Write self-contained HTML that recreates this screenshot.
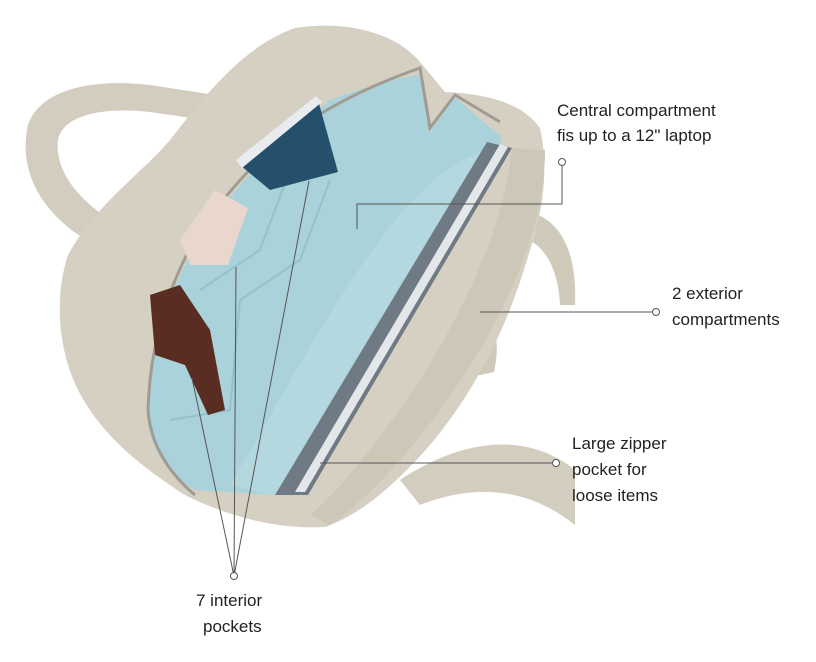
<!DOCTYPE html>
<html><head><meta charset="utf-8"><style>
html,body{margin:0;padding:0;background:#fff;}
svg{display:block}
text{font-family:"Liberation Sans",sans-serif;font-size:17px;fill:#222}
</style></head><body>
<svg width="816" height="662" viewBox="0 0 816 662" xmlns="http://www.w3.org/2000/svg">
<!-- left handle -->
<path d="M95,245 C40,215 18,170 28,125 C40,90 90,78 150,85 L215,95 L205,120 L150,112 C95,106 62,118 58,140 C54,175 85,205 118,225 Z" fill="#d3cdbf"/>
<!-- right handles -->
<path d="M505,212 C548,205 578,235 575,305 L560,305 C558,258 535,232 505,236 Z" fill="#d0cabb"/>
<path d="M470,318 C498,312 500,345 494,372 L466,378 Z" fill="#cfc9ba"/>
<path d="M400,480 C460,440 525,430 575,470 L575,525 C525,485 470,485 420,505 Z" fill="#d3cdbf"/>
<!-- body -->
<path d="M68,255 C95,205 140,175 170,140 C205,95 245,45 295,28 C345,20 395,32 420,62 L445,92 C485,94 522,102 540,128 C548,165 545,205 530,250 C510,320 480,385 430,445 C395,485 360,515 325,527 C275,530 225,515 185,495 C130,460 85,420 68,365 C56,325 58,285 68,255 Z" fill="#d6d0c3"/>
<!-- interior blue -->
<path d="M195,490 C170,475 150,450 148,420 C148,360 165,300 195,245 C230,190 280,140 330,100 C370,85 400,78 420,74 L430,132 L455,97 C475,115 490,128 502,136 L500,145 L300,495 L275,495 Z" fill="#a9d2db"/>
<path d="M230,485 C270,420 320,320 380,240 C420,185 460,155 495,148 L300,495 L270,495 Z" fill="#b4d8e0"/>
<!-- pocket creases -->
<g stroke="#94c2cc" stroke-width="2" fill="none">
<path d="M170,420 L230,410 L240,300 L300,260 L330,180"/>
<path d="M200,290 L260,250 L290,170"/>
</g>
<!-- laptop -->
<path d="M487,142 L512,148 L308,495 L275,495 Z" fill="#6f7a84"/>
<path d="M500,144 L508,147 L305,492 L295,492 Z" fill="#e4e7ea"/>
<!-- zipper edge left -->
<path d="M195,495 C165,470 150,440 148,410 C150,340 172,270 208,220 C248,165 300,110 420,68 L430,128 L455,95 L500,122" fill="none" stroke="#a09c92" stroke-width="3"/>
<!-- passport -->
<path d="M240,165 L318,100 L338,172 L270,190 Z" fill="#25506b"/>
<path d="M236,160 L316,96 L322,102 L242,168 Z" fill="#e8ecef"/>
<!-- pink case -->
<path d="M180,240 L215,190 L248,208 L228,265 L190,265 Z" fill="#e9d7cd"/>
<!-- sunglasses -->
<path d="M150,295 L180,285 L210,330 L225,410 L208,415 L185,365 L155,355 Z" fill="#5a2d22"/>
<!-- right rim -->
<path d="M512,148 L545,150 C545,230 505,320 440,410 C400,465 360,505 330,525 L310,515 C340,490 380,440 420,380 C470,300 505,220 512,148 Z" fill="#cdc7b8"/>
<!-- connectors -->
<g stroke="#555" stroke-width="1" fill="none">
<path d="M562,162 L562,204 L357,204 L357,229"/>
<path d="M656,312 L480,312"/>
<path d="M556,463 L320,463"/>
<path d="M234,576 L192,378 M234,576 L236,267 M234,576 L309,181"/>
</g>
<g fill="#fff" stroke="#555" stroke-width="1">
<circle cx="562" cy="162" r="3.5"/><circle cx="656" cy="312" r="3.5"/>
<circle cx="556" cy="463" r="3.5"/><circle cx="234" cy="576" r="3.5"/>
</g>
<text x="557" y="116">Central compartment</text>
<text x="557" y="141">fis up to a 12" laptop</text>
<text x="672" y="299">2 exterior</text>
<text x="672" y="325">compartments</text>
<text x="572" y="449">Large zipper</text>
<text x="572" y="475">pocket for</text>
<text x="572" y="501">loose items</text>
<text x="196" y="606">7 interior</text>
<text x="203" y="632">pockets</text>
</svg>
</body></html>
